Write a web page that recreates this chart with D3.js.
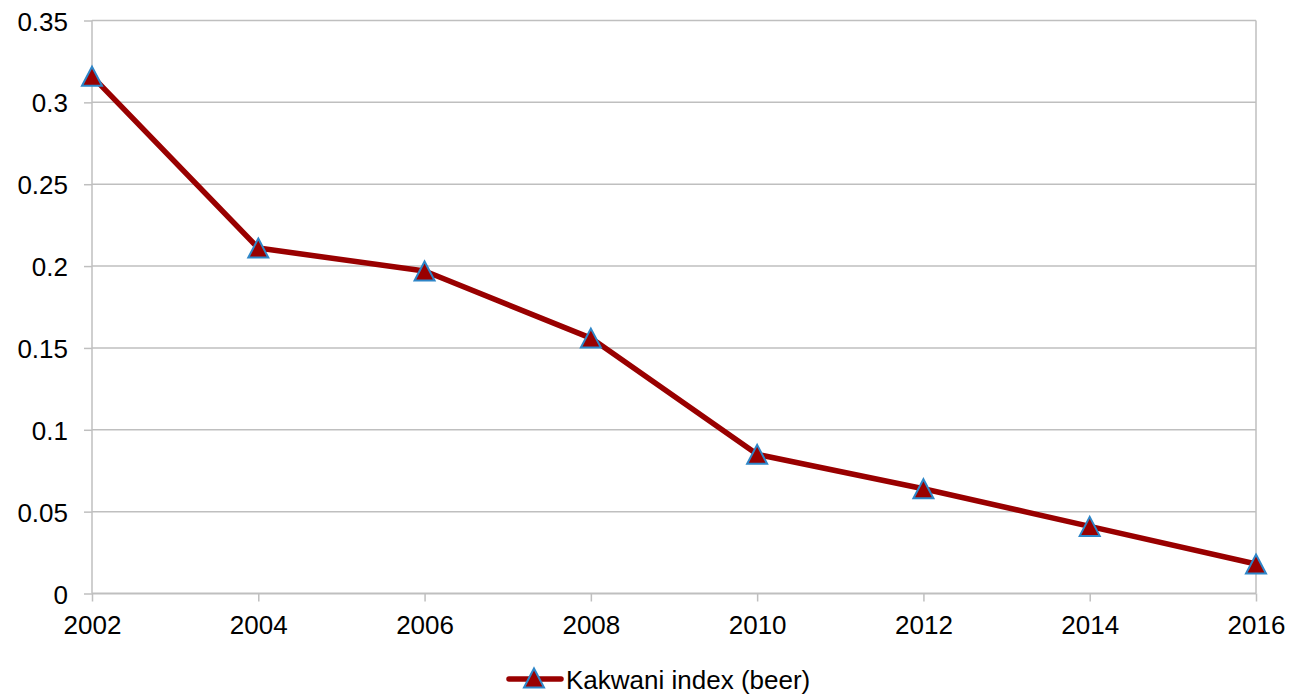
<!DOCTYPE html>
<html><head><meta charset="utf-8">
<script src="https://cdn.jsdelivr.net/npm/d3@7"></script>
<style>body{margin:0;background:#fff}svg{display:block}</style>
</head><body>
<svg id="c" width="1306" height="695"></svg>
<script>
const years = [2002, 2004, 2006, 2008, 2010, 2012, 2014, 2016];
const kakwani = [0.316, 0.211, 0.197, 0.156, 0.085, 0.064, 0.041, 0.018];
const yTicks = [0, 0.05, 0.1, 0.15, 0.2, 0.25, 0.3, 0.35];
const yTickLabels = ["0", "0.05", "0.1", "0.15", "0.2", "0.25", "0.3", "0.35"];
const seriesName = "Kakwani index (beer)";

const svg = d3.select("#c");
const L = 92, R = 1256, T = 20.5, B = 593.5;
const x = d3.scalePoint().domain(years).range([L, R]);
const y = d3.scaleLinear().domain([0, 0.35]).range([B, T]);
const font = "'Liberation Sans', Arial, sans-serif";
const FS = 26;
const lineColor = "#990000", markerStroke = "#2E86C8", gridColor = "#BFBFBF";

const yAxis = d3.axisLeft(y).tickValues(yTicks).tickFormat((d,i)=>yTickLabels[i]).tickSize(8).tickPadding(16);
const gy = svg.append("g").attr("transform", `translate(${L},0)`).call(yAxis);
gy.select(".domain").attr("stroke", gridColor).attr("stroke-width", 1.5).attr("d", `M0,${T}V${B}`);
gy.selectAll(".tick line").attr("stroke", gridColor).attr("stroke-width", 1.5);
gy.selectAll(".tick text").style("font-family", font).style("font-size", FS + "px").attr("fill", "#000").attr("dy", "0.37em");
svg.append("g").selectAll("line").data(yTicks.filter(d=>d>0)).join("line")
  .attr("x1", L).attr("x2", R).attr("y1", d=>y(d)).attr("y2", d=>y(d))
  .attr("stroke", gridColor).attr("stroke-width", 1.5);
svg.append("line").attr("x1", R).attr("x2", R).attr("y1", T).attr("y2", B)
  .attr("stroke", gridColor).attr("stroke-width", 1.5);

const xAxis = d3.axisBottom(x).tickSize(8).tickPadding(14);
const gx = svg.append("g").attr("transform", `translate(0,${B})`).call(xAxis);
gx.select(".domain").attr("stroke", gridColor).attr("stroke-width", 2).attr("d", `M${L},0H${R}`);
gx.selectAll(".tick line").attr("stroke", gridColor).attr("stroke-width", 1.5);
gx.selectAll(".tick text").style("font-family", font).style("font-size", FS + "px").attr("fill", "#000");

const data = years.map((yr,i)=>({yr, v:kakwani[i]}));
svg.append("path").datum(data)
  .attr("d", d3.line().x(d=>x(d.yr)).y(d=>y(d.v)))
  .attr("fill", "none").attr("stroke", lineColor).attr("stroke-width", 5.5).attr("stroke-linejoin", "round");

// triangle centred on its bounding box (as in Excel markers)
const boxTriangle = {
  draw(ctx, size) {
    const w = Math.sqrt(size), h = w * 0.95;
    ctx.moveTo(0, -h / 2);
    ctx.lineTo(w / 2, h / 2);
    ctx.lineTo(-w / 2, h / 2);
    ctx.closePath();
  }
};
const tri = d3.symbol().type(boxTriangle).size(400);
svg.append("g").selectAll("path").data(data).join("path")
  .attr("d", tri).attr("transform", d=>`translate(${x(d.yr)},${y(d.v)})`)
  .attr("fill", lineColor).attr("stroke", markerStroke).attr("stroke-width", 2);

const lg = svg.append("g");
lg.append("line").attr("x1", 509).attr("x2", 561).attr("y1", 679).attr("y2", 679)
  .attr("stroke", lineColor).attr("stroke-width", 5.5).attr("stroke-linecap", "round");
lg.append("path").attr("d", tri).attr("transform", "translate(534,678)")
  .attr("fill", lineColor).attr("stroke", markerStroke).attr("stroke-width", 2);
lg.append("text").attr("x", 566).attr("y", 689).text(seriesName)
  .style("font-family", font).style("font-size", FS + "px").attr("fill", "#000");
</script>
</body></html>
